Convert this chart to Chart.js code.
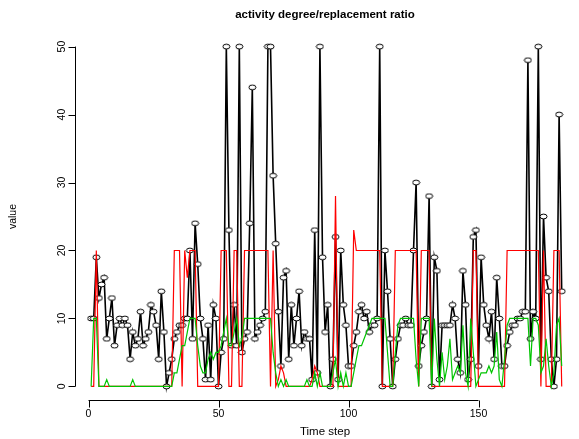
<!DOCTYPE html>
<html>
<head>
<meta charset="utf-8">
<script src="https://cdn.jsdelivr.net/npm/chart.js@4"></script>
<style>
  html, body { margin: 0; padding: 0; background: #fff; }
  #wrap { width: 579px; height: 439px; }
</style>
</head>
<body>
<div id="wrap"><canvas id="chart" width="579" height="439"></canvas></div>
<script>
// time steps 1..182
const timeSteps = [
  1,2,3,4,5,6,7,8,9,10,11,12,13,14,15,16,17,18,19,20,
  21,22,23,24,25,26,27,28,29,30,31,32,33,34,35,36,37,38,39,40,
  41,42,43,44,45,46,47,48,49,50,51,52,53,54,55,56,57,58,59,60,
  61,62,63,64,65,66,67,68,69,70,71,72,73,74,75,76,77,78,79,80,
  81,82,83,84,85,86,87,88,89,90,91,92,93,94,95,96,97,98,99,100,
  101,102,103,104,105,106,107,108,109,110,111,112,113,114,115,116,117,118,119,120,
  121,122,123,124,125,126,127,128,129,130,131,132,133,134,135,136,137,138,139,140,
  141,142,143,144,145,146,147,148,149,150,151,152,153,154,155,156,157,158,159,160,
  161,162,163,164,165,166,167,168,169,170,171,172,173,174,175,176,177,178,179,180,
  181,182
];

// black line with circles
const activity = [
  10,10,19,13,15,16,7,10,13,6,
  9,10,9,10,9,4,8,6,7,11,
  6,7,8,12,11,9,4,14,8,0,
  2,4,7,8,9,9,10,10,20,7,
  24,18,10,7,1,9,1,12,10,0,
  5,7,50,23,6,12,6,50,5,7,
  8,24,44,7,8,9,10,11,50,50,
  31,21,11,3,16,17,4,12,6,10,
  14,6,8,7,7,1,23,2,50,19,
  8,12,0,4,22,1,20,12,9,3,
  3,6,8,11,12,10,11,8,9,9,
  10,50,0,20,14,7,0,4,7,9,
  9,10,9,9,20,30,3,6,8,10,
  28,0,19,17,1,9,9,9,9,12,
  10,4,2,17,12,1,4,22,23,3,
  19,12,9,7,11,4,16,10,3,3,
  6,8,9,9,10,10,11,11,48,7,
  11,10,50,4,25,16,14,4,0,4,
  40,14
];

// red line
const degree = [
  0,0,20,0,0,0,0,0,0,0,
  0,0,0,0,0,0,0,0,0,0,
  0,0,0,0,0,0,0,0,0,0,
  0,0,20,20,20,0,20,16,20,20,
  20,0,0,0,0,0,0,0,0,0,
  20,20,20,0,0,20,20,0,0,20,
  20,20,20,20,20,20,20,20,20,0,
  20,0,1,3,2,0,0,0,0,0,
  0,0,0,0,0,1,3,2,0,0,
  0,0,0,0,28,0,0,0,0,0,
  0,23,20,20,20,20,20,20,20,20,
  20,20,0,0,0,0,0,20,20,20,
  20,20,20,20,20,20,0,20,20,20,
  20,0,0,0,0,0,0,0,0,0,
  0,0,0,0,0,0,0,20,20,0,
  0,0,0,0,0,0,0,0,0,0,
  20,20,20,20,20,20,20,20,20,20,
  20,20,20,0,20,0,0,0,20,20,
  20,0
];

// green line
const ratio = [
  0,10,10,0,0,0,1,0,0,0,
  0,0,0,0,0,0,1,0,0,0,
  0,0,0,0,0,0,0,0,0,0,
  0,0,2,2,4,6,6,8,10,10,
  10,6,3,2,2,4,5,4,5,5,
  6,8,10,6,6,8,10,6,7,10,
  10,10,10,10,10,10,10,10,10,10,
  5,2,0,1,0,1,0,0,0,0,
  0,0,0,1,0,0,2,0,2,0,
  0,0,0,2,4,0,2,0,2,0,
  0,2,4,6,6,7,8,9,10,10,
  10,10,10,10,5,0,0,5,9,10,
  10,10,10,10,10,4,0,10,10,10,
  10,0,10,4,0,5,1,3,7,1,
  2,3,2,9,2,0,10,5,0,1,
  2,2,2,3,2,3,8,1,0,4,
  9,10,10,10,10,10,10,10,10,3,
  10,10,9,2,3,7,3,0,2,9,
  10,3
];

const xTicks = [0, 50, 100, 150];
const yTicks = [0, 10, 20, 30, 40, 50];
const titleText = 'activity degree/replacement ratio';
const xTitle = 'Time step';
const yTitle = 'value';

const FONT = '"Liberation Sans", Arial, Helvetica, sans-serif';

function toPoints(vals) {
  return vals.map((v, i) => ({ x: timeSteps[i], y: v }));
}

// R-style open circle (slightly flattened like the original)
function makeCircle() {
  const c = document.createElement('canvas');
  c.width = 9; c.height = 7;
  const g = c.getContext('2d');
  g.beginPath();
  g.ellipse(4.5, 3.5, 3.5, 2.4, 0, 0, Math.PI * 2);
  g.fillStyle = '#fff';
  g.fill();
  g.lineWidth = 1;
  g.strokeStyle = '#000';
  g.stroke();
  return c;
}

const rAxes = {
  id: 'rAxes',
  afterDraw(chart) {
    const { ctx, chartArea: a, scales: { x, y } } = chart;
    ctx.save();
    ctx.strokeStyle = '#000';
    ctx.fillStyle = '#000';
    ctx.lineWidth = 1;

    // x axis
    const xb = Math.round(a.bottom) + 0.5;
    ctx.beginPath();
    ctx.moveTo(x.getPixelForValue(xTicks[0]), xb);
    ctx.lineTo(x.getPixelForValue(xTicks[xTicks.length - 1]), xb);
    xTicks.forEach(t => {
      const px = Math.round(x.getPixelForValue(t)) + 0.5;
      ctx.moveTo(px, xb);
      ctx.lineTo(px, xb + 7);
    });
    // y axis
    const yl = Math.round(a.left) + 0.5;
    ctx.moveTo(yl, y.getPixelForValue(yTicks[0]));
    ctx.lineTo(yl, y.getPixelForValue(yTicks[yTicks.length - 1]));
    yTicks.forEach(t => {
      const py = Math.round(y.getPixelForValue(t)) + 0.5;
      ctx.moveTo(yl, py);
      ctx.lineTo(yl - 7, py);
    });
    ctx.stroke();

    ctx.font = '10.5px ' + FONT;
    ctx.textAlign = 'center';
    ctx.textBaseline = 'middle';
    xTicks.forEach(t => ctx.fillText(String(t), x.getPixelForValue(t), xb + 14));
    yTicks.forEach(t => {
      ctx.save();
      ctx.translate(yl - 13, y.getPixelForValue(t));
      ctx.rotate(-Math.PI / 2);
      ctx.fillText(String(t), 0, 0);
      ctx.restore();
    });

    // axis titles
    ctx.font = '11.5px ' + FONT;
    ctx.fillText(xTitle, 325, 432);
    ctx.font = '10.5px ' + FONT;
    ctx.save();
    ctx.translate(13, (a.top + a.bottom) / 2);
    ctx.rotate(-Math.PI / 2);
    ctx.fillText(yTitle, 0, 0);
    ctx.restore();

    // main title
    ctx.font = 'bold 11.5px ' + FONT;
    ctx.fillText(titleText, 325, 15);
    ctx.restore();
  }
};

const circle = makeCircle();

new Chart(document.getElementById('chart'), {
  type: 'line',
  data: {
    datasets: [
      {
        label: 'ratio',
        data: toPoints(ratio),
        borderColor: '#00c400',
        borderWidth: 1.2,
        pointRadius: 0,
        tension: 0,
        order: 0,
      },
      {
        label: 'degree',
        data: toPoints(degree),
        borderColor: '#ff0000',
        borderWidth: 1.2,
        pointRadius: 0,
        tension: 0,
        order: 1,
      },
      {
        label: 'activity',
        data: toPoints(activity),
        borderColor: '#000',
        borderWidth: 1.6,
        pointStyle: circle,
        pointRadius: 3,
        tension: 0,
        order: 2,
      },
    ],
  },
  options: {
    responsive: false,
    animation: false,
    events: [],
    layout: { autoPadding: false, padding: { left: 75, right: 0, top: 33, bottom: 39 } },
    scales: {
      x: { type: 'linear', min: -5.2, max: 188.65, display: false },
      y: { type: 'linear', min: -2, max: 52, display: false },
    },
    plugins: {
      legend: { display: false },
      tooltip: { enabled: false },
      title: { display: false },
    },
  },
  plugins: [rAxes],
});
</script>
</body>
</html>
